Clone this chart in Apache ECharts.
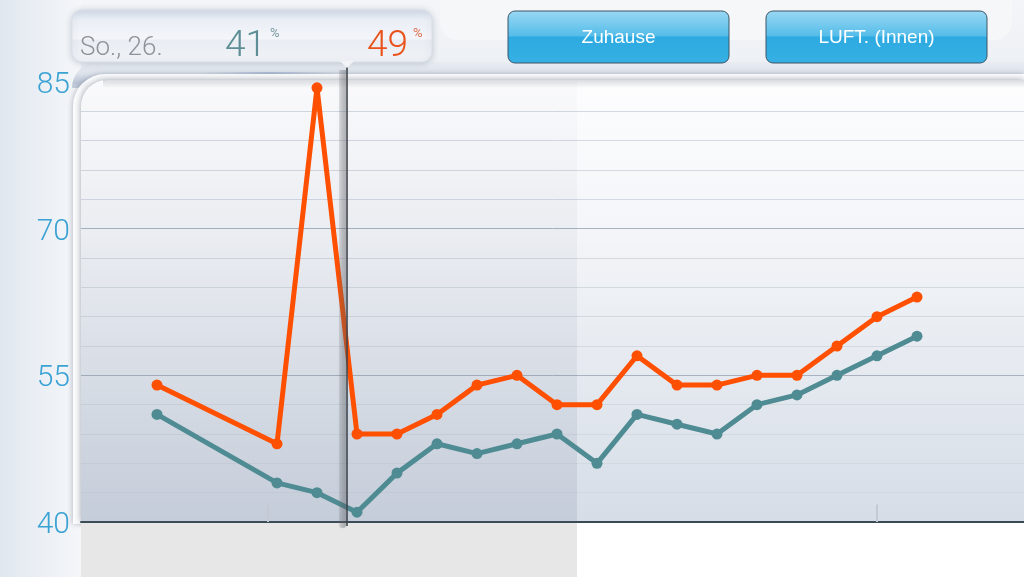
<!DOCTYPE html>
<html>
<head>
<meta charset="utf-8">
<style>
html,body{margin:0;padding:0;background:#eef2f7;}
#c{width:1024px;height:577px;}
</style>
<script src="https://cdn.jsdelivr.net/npm/echarts@6/dist/echarts.min.js"></script>
</head>
<body>
<div id="c"></div>
<script>
// ---- data ----
const days = ["Di., 21.","Mi., 22.","Do., 23.","Fr., 24.","Sa., 25.","So., 26.","Mo., 27.","Di., 28.","Mi., 29.","Do., 30.","Fr., 31.","Sa., 1.","So., 2.","Mo., 3.","Di., 4.","Mi., 5.","Do., 6.","Fr., 7.","Sa., 8.","So., 9."];
const outdoor = [54, null, null, 48, 84.4, 49, 49, 51, 54, 55, 52, 52, 57, 54, 54, 55, 55, 58, 61, 63];
const indoor  = [51, null, null, 44, 43, 41, 45, 48, 47, 48, 49, 46, 51, 50, 49, 52, 53, 55, 57, 59];
const yTicks = [40, 55, 70, 85];
const selectedIndex = 5;
const cursorPos = 4.75;
const weekMarks = [2.78, 18];
const shadedRange = [-1.9, 10.5];
const xRange = [-1.9, 21.675];
const buttons = ["Zuhause", "LUFT. (Innen)"];

const toPairs = arr => arr.map((v, i) => [i, v]);

const chart = echarts.init(document.getElementById('c'), null, {renderer: 'canvas'});
const FONT = 'Roboto, "Liberation Sans", sans-serif';

function vgrad(stops) {
  return new echarts.graphic.LinearGradient(0, 0, 0, 1, stops.map(c => ({offset: c[0], color: c[1]})));
}
function hgrad(stops) {
  return new echarts.graphic.LinearGradient(0, 0, 1, 0, stops.map(c => ({offset: c[0], color: c[1]})));
}

const option = {
  backgroundColor: '#eef2f7',
  animation: false,
  grid: {left: 81, right: 0, top: 82, bottom: 55, containLabel: false},
  xAxis: {
    type: 'value', min: xRange[0], max: xRange[1],
    axisLabel: {show: false}, axisTick: {show: false}, splitLine: {show: false},
    axisLine: {show: true, onZero: false, lineStyle: {color: '#3a4a55', width: 2}}
  },
  yAxis: {
    type: 'value', min: yTicks[0], max: yTicks[yTicks.length - 1], interval: yTicks[1] - yTicks[0],
    axisLine: {show: false}, axisTick: {show: false},
    axisLabel: {
      margin: 11,
      formatter: v => '{n|' + v + '}',
      rich: {n: {color: '#3ba2d4', fontSize: 30, fontFamily: FONT, fontWeight: 300, padding: [7, 0, 0, 0]}}
    },
    splitLine: {lineStyle: {color: ['#a9b2be', '#a9b2be', '#a9b2be', 'rgba(0,0,0,0)'], width: 1}},
    minorTick: {show: false, splitNumber: 5},
    minorSplitLine: {show: true, lineStyle: {color: '#d3d9e1', width: 1}}
  },
  series: [
    {
      name: 'shade', type: 'line', data: [], silent: true,
      markArea: {silent: true,
        itemStyle: {color: vgrad([[0, 'rgba(80,95,125,0.02)'], [0.5, 'rgba(80,95,125,0.07)'], [1, 'rgba(80,95,125,0.13)']])},
        data: [[{xAxis: shadedRange[0]}, {xAxis: shadedRange[1]}]]},
      markLine: {silent: true, symbol: 'none', label: {show: false},
        lineStyle: {color: '#c3cad4', width: 2, type: 'solid'},
        data: weekMarks.map(x => [{coord: [x, yTicks[0]]}, {coord: [x, yTicks[0] + 1.8]}])}
    },
    {
      name: 'Innen', type: 'line', data: toPairs(indoor), connectNulls: true,
      symbol: 'circle', symbolSize: 11, z: 3,
      lineStyle: {color: '#4f8b93', width: 5}, itemStyle: {color: '#4f8b93'}
    },
    {
      name: 'Außen', type: 'line', data: toPairs(outdoor), connectNulls: true,
      symbol: 'circle', symbolSize: 11, z: 4,
      lineStyle: {color: '#ff4f00', width: 5}, itemStyle: {color: '#ff4f00'}
    }
  ]
};
chart.setOption(option);

// ---- decoration (layout derived from the axes) ----
const p0 = chart.convertToPixel({gridIndex: 0}, [xRange[0], yTicks[yTicks.length - 1]]);
const p1 = chart.convertToPixel({gridIndex: 0}, [xRange[1], yTicks[0]]);
const L = p0[0], T = p0[1], R = p1[0], B = p1[1];
const shadeR = chart.convertToPixel({gridIndex: 0}, [shadedRange[1], yTicks[0]])[0];
const cx = chart.convertToPixel({gridIndex: 0}, [cursorPos, yTicks[0]])[0];

const els = [];
// top strip
els.push({type: 'rect', z: -20, shape: {x: 0, y: 0, width: 1024, height: T}, style: {fill: vgrad([[0, '#f3f5f8'], [0.7, '#eef1f5'], [1, '#e3e8ef']])}});
// lighter panel behind buttons
els.push({type: 'rect', z: -20, shape: {x: 440, y: -20, width: 572, height: 60, r: 18}, style: {fill: '#f6f7f9'}});
// left panel
els.push({type: 'rect', z: -19, shape: {x: 0, y: 0, width: L, height: 577}, style: {fill: hgrad([[0, '#e1e7ef'], [0.6, '#edf1f6'], [1, '#f4f6f9']])}});
// frame band on top of plot
els.push({type: 'rect', z: -18, shape: {x: L - 9, y: T - 20, width: R - L + 9, height: 26, r: [30, 0, 0, 0]},
  style: {fill: vgrad([[0, '#e9edf2'], [0.45, '#dce2ea'], [0.8, '#b9c4d4'], [1, '#c4cddb']])}});
els.push({type: 'rect', z: -18, shape: {x: 200, y: T - 10, width: 140, height: 6},
  style: {fill: hgrad([[0, 'rgba(150,170,205,0)'], [0.5, 'rgba(150,170,205,0.6)'], [1, 'rgba(150,170,205,0)']])}});
// white rim
els.push({type: 'rect', z: -17, shape: {x: L - 8, y: T - 8, width: R - L + 8, height: B - T + 10, r: [32, 0, 0, 0]},
  style: {fill: '#fbfcfd', shadowBlur: 5, shadowColor: 'rgba(60,70,90,0.3)', shadowOffsetX: -1, shadowOffsetY: 0}});
// plot background
els.push({type: 'rect', z: -16, shape: {x: L, y: T - 2, width: R - L, height: B - T + 2, r: [26, 0, 0, 0]},
  style: {fill: vgrad([[0, '#fdfdfe'], [0.35, '#f3f5f8'], [1, '#d6dde7']]), shadowBlur: 7, shadowColor: 'rgba(40,50,70,0.45)', shadowOffsetX: 0, shadowOffsetY: 0}});
// inner top shadow
els.push({type: 'rect', z: -15, shape: {x: L + 22, y: T - 2, width: R - L - 22, height: 8},
  style: {fill: vgrad([[0, 'rgba(60,70,90,0.18)'], [1, 'rgba(60,70,90,0)']])}});
// bottom band
els.push({type: 'rect', z: -15, shape: {x: L, y: B + 1, width: R - L, height: 577 - B}, style: {fill: '#ffffff'}});
els.push({type: 'rect', z: -14, shape: {x: L, y: B + 1, width: shadeR - L, height: 577 - B}, style: {fill: '#e7e7e7'}});

// cursor line
els.push({type: 'rect', z: 49, shape: {x: cx - 8, y: T - 12, width: 7, height: B - T + 18, r: [0, 0, 3, 3]},
  style: {fill: hgrad([[0, 'rgba(110,112,118,0.18)'], [0.5, 'rgba(100,102,108,0.32)'], [1, 'rgba(90,92,98,0.4)']]), shadowBlur: 3, shadowColor: 'rgba(0,0,0,0.15)'}});
els.push({type: 'line', z: 50, shape: {x1: cx, y1: T - 18, x2: cx, y2: B + 4},
  style: {stroke: '#3e454c', lineWidth: 1.6}});

// info box
const bx = 72, by = 10, bw = 360, bh = 52;
els.push({type: 'rect', z: 60, shape: {x: bx, y: by, width: bw, height: bh, r: 10},
  style: {fill: vgrad([[0, '#d3dbe8'], [0.2, '#eaeef5'], [0.55, '#f3f5f9'], [0.58, '#e9edf3'], [1, '#f0f2f6']]),
    stroke: '#d9dfe8', lineWidth: 1, shadowBlur: 6, shadowColor: 'rgba(70,85,110,0.25)', shadowOffsetY: 1}});
els.push({type: 'polygon', z: 61, shape: {points: [[cx - 7, by + bh - 1], [cx + 7, by + bh - 1], [cx, by + bh + 6]]}, style: {fill: '#f1f3f7'}});
els.push({type: 'text', z: 62, style: {text: days[selectedIndex], x: 80, y: 61, verticalAlign: 'bottom',
  fill: '#8d9399', font: '300 26px ' + FONT}});
els.push({type: 'text', z: 62, style: {text: String(indoor[selectedIndex]), x: 225, y: 65, verticalAlign: 'bottom',
  fill: '#5d8d95', font: '300 37px ' + FONT}});
els.push({type: 'text', z: 62, style: {text: '%', x: 270, y: 40, verticalAlign: 'bottom', fill: '#7a9aa0', font: '13px ' + FONT}});
els.push({type: 'text', z: 62, style: {text: String(outdoor[selectedIndex]), x: 367, y: 65, verticalAlign: 'bottom',
  fill: '#e9531b', font: '300 37px ' + FONT}});
els.push({type: 'text', z: 62, style: {text: '%', x: 413, y: 40, verticalAlign: 'bottom', fill: '#e07050', font: '13px ' + FONT}});

// buttons
const btnX = [508, 766];
buttons.forEach((t, i) => {
  els.push({type: 'rect', z: 60, shape: {x: btnX[i], y: 11, width: 221, height: 52, r: 7},
    style: {fill: vgrad([[0, '#9ad8f3'], [0.48, '#55bde9'], [0.5, '#2daae1'], [1, '#36b0e4']]), stroke: '#3f5566', lineWidth: 1}});
  els.push({type: 'text', z: 61, style: {text: t, x: btnX[i] + 110.5, y: 38, align: 'center', verticalAlign: 'middle',
    fill: '#ffffff', font: '19px "Liberation Sans", ' + FONT}});
});

chart.setOption({graphic: {elements: els}});
</script>
</body>
</html>
